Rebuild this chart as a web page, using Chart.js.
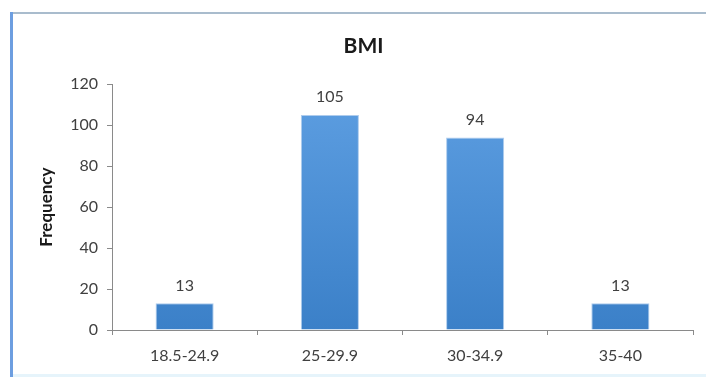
<!DOCTYPE html>
<html><head><meta charset="utf-8">
<script src="https://cdn.jsdelivr.net/npm/chart.js@4.4.0/dist/chart.umd.min.js"></script>
<style>html,body{margin:0;padding:0;background:#fff;}#wrap{width:706px;height:377px;}</style>
</head><body>
<div id="wrap"><canvas id="c" width="706" height="377"></canvas></div>
<script>
const categories = ['18.5-24.9', '25-29.9', '30-34.9', '35-40'];
const frequency = [13, 105, 94, 13];
const yTicks = [0, 20, 40, 60, 80, 100, 120];
const chartTitle = 'BMI';
const yTitle = 'Frequency';

const FONT = 'Lato, "Open Sans", sans-serif';

const borderPlugin = {
  id: 'frame',
  beforeDraw(chart) {
    const ctx = chart.ctx;
    ctx.save();
    ctx.fillStyle = '#fff';
    ctx.fillRect(0, 0, chart.width, chart.height);
    ctx.strokeStyle = '#e6f4fb';
    ctx.lineWidth = 3;
    ctx.beginPath(); ctx.moveTo(10, 375.5); ctx.lineTo(chart.width, 375.5); ctx.stroke();
    ctx.strokeStyle = '#a9bccd';
    ctx.lineWidth = 2;
    ctx.beginPath(); ctx.moveTo(10, 13); ctx.lineTo(chart.width, 13); ctx.stroke();
    ctx.strokeStyle = '#6d9ee0';
    ctx.lineWidth = 3;
    ctx.beginPath(); ctx.moveTo(11.5, 12); ctx.lineTo(11.5, chart.height); ctx.stroke();
    ctx.restore();
  }
};

const labelPlugin = {
  id: 'valueLabels',
  afterDatasetsDraw(chart) {
    const ctx = chart.ctx;
    const meta = chart.getDatasetMeta(0);
    ctx.save();
    ctx.fillStyle = '#404040';
    ctx.font = '16px ' + FONT;
    ctx.textAlign = 'center';
    ctx.textBaseline = 'middle';
    meta.data.forEach((bar, i) => {
      ctx.fillText(String(chart.data.datasets[0].data[i]), bar.x, bar.y - 18);
    });
    ctx.restore();
  }
};

new Chart(document.getElementById('c'), {
  type: 'bar',
  data: {
    labels: categories,
    datasets: [{
      data: frequency,
      backgroundColor(ctx) {
        const ca = ctx.chart.chartArea;
        if (!ca) return '#4a8ed6';
        const g = ctx.chart.ctx.createLinearGradient(0, ca.top, 0, ca.bottom);
        g.addColorStop(0, '#5e9fe2');
        g.addColorStop(1, '#3b80c8');
        return g;
      },
      borderColor: 'rgba(120,170,225,0.6)',
      borderWidth: 1,
      barPercentage: 0.4,
      categoryPercentage: 1.0
    }]
  },
  options: {
    responsive: false,
    animation: false,
    devicePixelRatio: 1,
    layout: { padding: { left: 34, right: 13, top: 0, bottom: 10 } },
    plugins: {
      legend: { display: false },
      tooltip: { enabled: false },
      title: {
        display: true,
        text: chartTitle,
        color: '#1a1a1a',
        font: { family: FONT, size: 21, weight: 'bold' },
        padding: { top: 34, bottom: 25 }
      }
    },
    scales: {
      x: {
        grid: { display: true, drawOnChartArea: false, drawTicks: true, tickLength: 5, color: '#8a8a8a', offset: true },
        border: { display: true, color: '#8a8a8a' },
        ticks: { color: '#404040', font: { family: FONT, size: 16 }, padding: 11 },
        afterFit(s) { s.height = 37; }
      },
      y: {
        min: 0, max: 120,
        afterBuildTicks(s) { s.ticks = yTicks.map(v => ({ value: v })); },
        grid: { display: true, drawOnChartArea: false, drawTicks: true, tickLength: 5, color: '#8a8a8a' },
        border: { display: true, color: '#8a8a8a' },
        ticks: { color: '#404040', font: { family: FONT, size: 16 }, padding: 9 },
        title: { display: true, text: yTitle, color: '#1a1a1a', font: { family: FONT, size: 17, weight: 'bold' }, padding: { top: 2, bottom: 0 } },
        afterFit(s) { s.width = 78; }
      }
    }
  },
  plugins: [borderPlugin, labelPlugin]
});
</script>
</body></html>
